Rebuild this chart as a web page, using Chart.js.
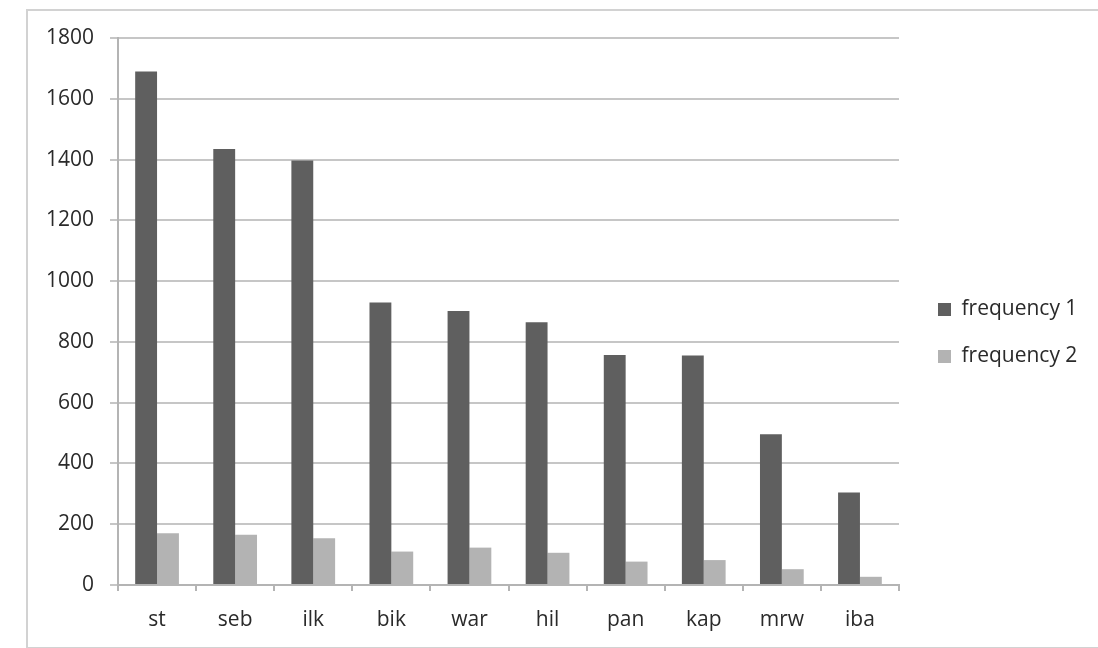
<!DOCTYPE html>
<html>
<head>
<meta charset="utf-8">
<script src="https://cdn.jsdelivr.net/npm/chart.js@4/dist/chart.umd.min.js"></script>
<style>
  html, body { margin: 0; padding: 0; background: #ffffff; }
  #wrap { position: relative; width: 1098px; height: 648px; overflow: hidden; }
  #frame {
    position: absolute; left: 26px; top: 9px; width: 1090px; height: 636px;
    border: 2px solid #d2d2d2; pointer-events: none;
  }
  canvas { position: absolute; left: 0; top: 0; }
</style>
</head>
<body>
<div id="wrap">
  <canvas id="chart" width="1098" height="648"></canvas>
  <div id="frame"></div>
</div>
<script>
// Categories along the x axis
const categories = ['st', 'seb', 'ilk', 'bik', 'war', 'hil', 'pan', 'kap', 'mrw', 'iba'];

// Series values
const frequency1 = [1690, 1435, 1397, 930, 902, 865, 757, 755, 496, 304];
const frequency2 = [170, 165, 154, 110, 123, 106, 77, 82, 52, 27];

// Series names
const seriesNames = ['frequency 1', 'frequency 2'];

// Value axis range
const yMin = 0;
const yMax = 1800;
const yStep = 200;

const FONT = "'Open Sans', 'Liberation Sans', sans-serif";
const TEXT = '#2a2a2a';

// Nudges the legend block: a gap from the plot area, room for the full
// label text on the right, and a slightly higher centre
const legendPlacement = {
  id: 'legendPlacement',
  afterLayout(chart) {
    const lg = chart.legend;
    if (!lg) return;
    lg.left += 13;
    lg.right = chart.width;
    lg.top -= 10; lg.bottom -= 10;
  }
};

new Chart(document.getElementById('chart'), {
  type: 'bar',
  data: {
    labels: categories,
    datasets: [
      { label: seriesNames[0], data: frequency1, backgroundColor: '#5f5f5f', borderWidth: 0 },
      { label: seriesNames[1], data: frequency2, backgroundColor: '#b3b3b3', borderWidth: 0 }
    ]
  },
  options: {
    responsive: false,
    animation: false,
    devicePixelRatio: 1,
    categoryPercentage: 0.56,
    barPercentage: 1.0,
    layout: { padding: { left: 0, top: 38, right: 39, bottom: 0 } },
    plugins: {
      tooltip: { enabled: false },
      legend: {
        position: 'right',
        align: 'center',
        maxWidth: 160,
        labels: {
          boxWidth: 13,
          boxHeight: 13,
          padding: 26,
          color: TEXT,
          font: { family: FONT, size: 21 }
        }
      }
    },
    scales: {
      x: {
        grid: {
          offset: true,
          drawOnChartArea: false,
          drawTicks: true,
          tickLength: 6,
          color: '#b4b4b4',
          lineWidth: 2
        },
        border: { display: true, color: '#b4b4b4', width: 2 },
        ticks: {
          color: TEXT,
          padding: 16,
          font: { family: FONT, size: 21 },
          maxRotation: 0
        },
        afterFit(scale) { scale.height = 63; }
      },
      y: {
        min: yMin,
        max: yMax,
        grid: {
          color: '#c6c6c6',
          lineWidth: 2,
          drawTicks: true,
          tickLength: 8
        },
        border: { display: true, color: '#b4b4b4', width: 2 },
        ticks: {
          stepSize: yStep,
          color: TEXT,
          padding: 16,
          font: { family: FONT, size: 21 },
          callback: (value) => String(value)
        },
        afterFit(scale) { scale.width = 118; }
      }
    }
  },
  plugins: [legendPlacement]
});
</script>
</body>
</html>
